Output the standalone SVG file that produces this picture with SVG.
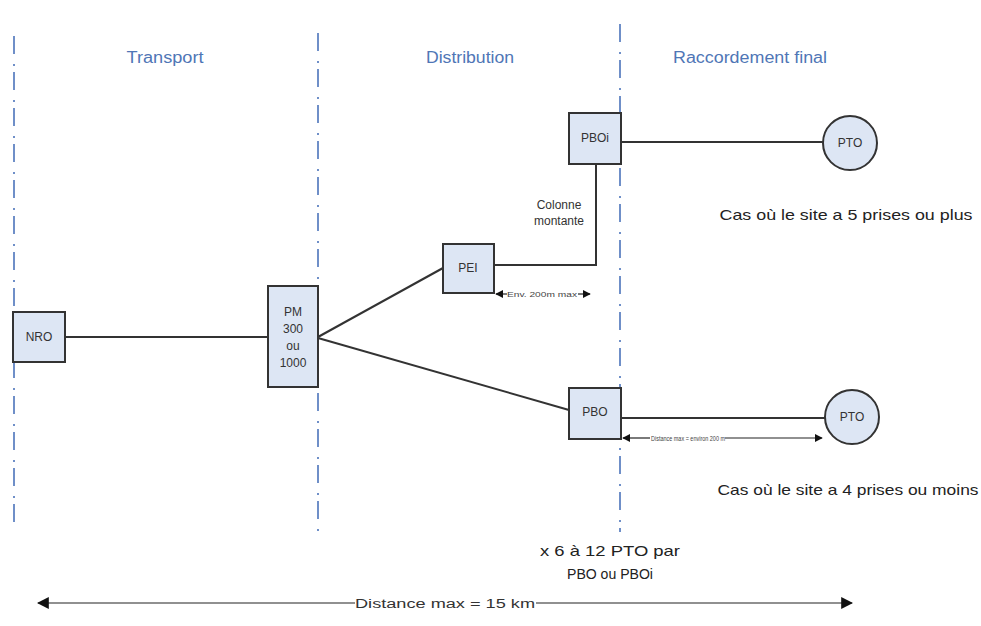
<svg xmlns="http://www.w3.org/2000/svg" width="981" height="626" viewBox="0 0 981 626">
<style>
.sep{stroke:#6f8fc8;stroke-width:2;stroke-dasharray:18 10 2 6;fill:none}
.hdr{font-family:"Liberation Sans",Arial,sans-serif;font-size:16px;fill:#4f76b6;text-anchor:middle}
.box{fill:#dde6f4;stroke:#333;stroke-width:2}
.lbl{font-family:"Liberation Sans",Arial,sans-serif;font-size:12px;fill:#333;text-anchor:middle}
.small{font-family:"Liberation Sans",Arial,sans-serif;font-size:7px;fill:#444;text-anchor:middle}
.txt{font-family:"Liberation Sans",Arial,sans-serif;font-size:14.5px;fill:#222;text-anchor:middle}
.wire{stroke:#333;stroke-width:2;fill:none}
.dim{stroke:#222;stroke-width:1.2;fill:none}
</style>
<defs>
<marker id="ah" viewBox="0 0 10 10" refX="9" refY="5" markerWidth="8" markerHeight="8" orient="auto-start-reverse" markerUnits="userSpaceOnUse">
<path d="M0,0 L10,5 L0,10 z" fill="#111"/>
</marker>
<marker id="ahb" viewBox="0 0 10 10" refX="9" refY="5" markerWidth="12" markerHeight="12" orient="auto-start-reverse" markerUnits="userSpaceOnUse">
<path d="M0,0 L10,5 L0,10 z" fill="#111"/>
</marker>
</defs>
<rect width="981" height="626" fill="#fff"/>
<g id="separators">
<line class="sep" x1="14" y1="36" x2="14" y2="532"/>
<line class="sep" x1="318" y1="33" x2="318" y2="532"/>
<line class="sep" x1="620" y1="24" x2="620" y2="532"/>
</g>
<g id="headers">
<text class="hdr" x="165" y="63" textLength="77" lengthAdjust="spacingAndGlyphs">Transport</text>
<text class="hdr" x="470" y="63" textLength="88" lengthAdjust="spacingAndGlyphs">Distribution</text>
<text class="hdr" x="750" y="63" textLength="154" lengthAdjust="spacingAndGlyphs">Raccordement final</text>
</g>
<g id="connectors">
<line class="wire" x1="65" y1="337" x2="268" y2="337"/>
<line class="wire" x1="318" y1="337" x2="443" y2="268"/>
<line class="wire" x1="318" y1="338" x2="569" y2="410"/>
<polyline class="wire" points="494,265 596,265 596,164"/>
<line class="wire" x1="621" y1="142" x2="823" y2="142"/>
<line class="wire" x1="621" y1="418" x2="825" y2="418"/>
</g>
<g id="dimensions">
<line class="dim" x1="496" y1="294" x2="507" y2="294" marker-start="url(#ah)"/>
<line class="dim" x1="578" y1="294" x2="590" y2="294" marker-end="url(#ah)"/>
<text class="small" x="542" y="296.5" textLength="70" lengthAdjust="spacingAndGlyphs">Env. 200m max</text>
<line class="dim" x1="623" y1="438" x2="650" y2="438" marker-start="url(#ah)"/>
<line class="dim" x1="725" y1="438" x2="822" y2="438" marker-end="url(#ah)"/>
<text class="small" x="688" y="440.5" textLength="74" lengthAdjust="spacingAndGlyphs">Distance max = environ 200 m</text>
<line class="dim" x1="38" y1="603" x2="355" y2="603" marker-start="url(#ahb)"/>
<line class="dim" x1="536" y1="603" x2="852" y2="603" marker-end="url(#ahb)"/>
<text class="lbl" x="445" y="608" font-size="14" fill="#222" textLength="180" lengthAdjust="spacingAndGlyphs">Distance max = 15 km</text>
</g>
<g id="NRO">
<rect class="box" x="13" y="312" width="52" height="50"/>
<text class="lbl" x="39" y="341">NRO</text>
</g>
<g id="PM">
<rect class="box" x="268" y="286" width="50" height="101"/>
<text class="lbl" x="293" y="316">PM</text>
<text class="lbl" x="293" y="333">300</text>
<text class="lbl" x="293" y="350">ou</text>
<text class="lbl" x="293" y="367">1000</text>
</g>
<g id="PEI">
<rect class="box" x="443" y="244" width="51" height="49"/>
<text class="lbl" x="468" y="272">PEI</text>
</g>
<g id="PBOi">
<rect class="box" x="569" y="113" width="52" height="51"/>
<text class="lbl" x="595" y="142">PBOi</text>
</g>
<g id="PBO">
<rect class="box" x="569" y="388" width="52" height="51"/>
<text class="lbl" x="595" y="416">PBO</text>
</g>
<g id="PTO1">
<circle class="box" cx="850" cy="143" r="27"/>
<text class="lbl" x="850" y="147">PTO</text>
</g>
<g id="PTO2">
<circle class="box" cx="852" cy="417" r="27"/>
<text class="lbl" x="852" y="421">PTO</text>
</g>
<g id="notes">
<text class="lbl" x="559" y="209" font-size="13">Colonne</text>
<text class="lbl" x="559" y="225" font-size="13">montante</text>
<text class="txt" x="846" y="220" textLength="253" lengthAdjust="spacingAndGlyphs">Cas où le site a 5 prises ou plus</text>
<text class="txt" x="848" y="495" textLength="261" lengthAdjust="spacingAndGlyphs">Cas où le site a 4 prises ou moins</text>
<text class="txt" x="610" y="556" textLength="140" lengthAdjust="spacingAndGlyphs">x 6 à 12 PTO par</text>
<text class="txt" x="610" y="579" textLength="86" lengthAdjust="spacingAndGlyphs">PBO ou PBOi</text>
</g>
</svg>
